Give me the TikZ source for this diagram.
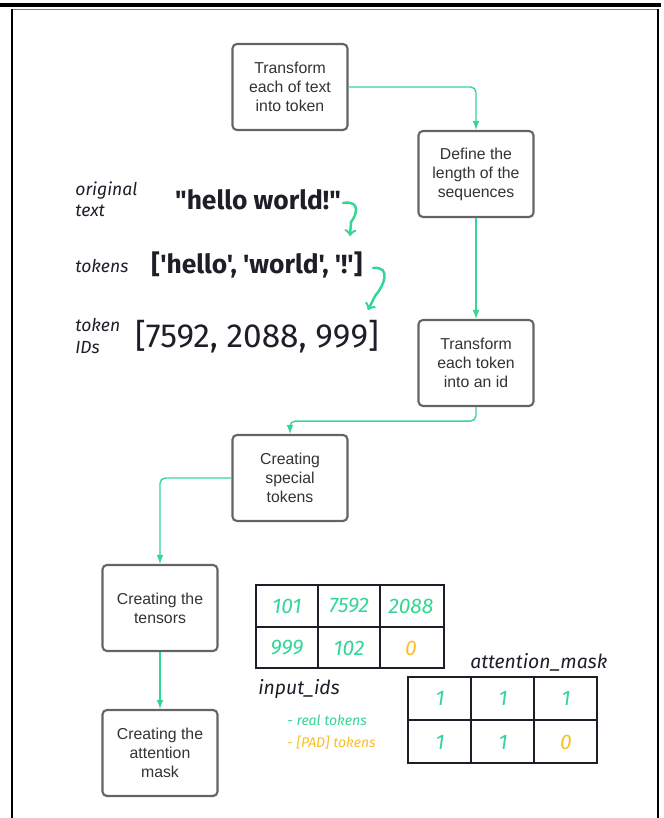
\documentclass[tikz,border=0pt]{standalone}
\usepackage{fontspec}
\setmainfont{Liberation Sans}
\newfontfamily\handfont{Fira Sans}
\usetikzlibrary{arrows,positioning}
\definecolor{mint}{RGB}{52,214,150}
\definecolor{padyellow}{RGB}{250,190,40}
\definecolor{boxgray}{RGB}{100,100,100}
\definecolor{inkgray}{RGB}{50,50,55}
\definecolor{inkblack}{RGB}{30,30,40}

\begin{document}
\begin{tikzpicture}[x=0.02cm,y=-0.02cm,
  stepbox/.style={draw=boxgray,very thick,rounded corners=2.5pt,minimum width=2.3cm,minimum height=1.72cm,
    align=center,text=inkgray,font=\fontsize{9}{10.8}\selectfont},
  flow/.style={draw=mint,thick,-latex,rounded corners=3pt},
  curly/.style={draw=mint,line width=1.4pt,line cap=round,->},
  label/.style={anchor=west,align=left,inner sep=0pt,text=inkblack,font=\handfont\itshape\fontsize{10}{12}\selectfont},
  big/.style={text=inkblack,font=\handfont\bfseries\fontsize{15}{18}\selectfont},
  cell/.style={font=\handfont\itshape\fontsize{12}{14}\selectfont},
  grid/.style={draw=inkblack,thick}]

\useasboundingbox (0,0) rectangle (663,818);

% frame
\draw[line width=2pt] (0,5)--(661,5);
\draw[gray,thin] (12,9)--(658,9);
\draw[line width=1.5pt] (12,9)--(12,818);
\draw[line width=1.5pt] (658,9)--(658,818);

% flow chart
\node[stepbox] (tok) at (290,87) {Transform\\each of text\\into token};
\node[stepbox] (len) at (476,174) {Define the\\length of the\\sequences};
\node[stepbox] (ids) at (476,363) {Transform\\each token\\into an id};
\node[stepbox] (spec) at (290,478) {Creating\\special\\tokens};
\node[stepbox] (tens) at (160,608) {Creating the\\tensors};
\node[stepbox] (mask) at (160,753) {Creating the\\attention\\mask};

\draw[flow] (tok.east) -| (len.north);
\draw[flow] (len) -- (ids);
\draw[flow] (ids.south) -- ++(0,14) -| (spec.north);
\draw[flow] (spec.west) -| (tens.north);
\draw[flow] (tens) -- (mask);

% example
\node[label] (lorig) at (75,199) {original\\text};
\node[label] (ltok) at (75,266) {tokens};
\node[label] (lids) at (75,336) {token\\IDs};
\node[big] (orig) at (258,200) {"hello world!"};
\node[big] (toks) at (257,265) {['hello', 'world', '!']};
\node[text=inkblack,font=\handfont\fontsize{19}{21}\selectfont] (nums) at (257,337) {[7592, 2088, 999]};

\coordinate (c1) at (343,203);
\coordinate (c2) at (350,236);
\coordinate (c3) at (373,268);
\coordinate (c4) at (368,310);
\draw[curly] (c1) .. controls (362,200) and (356,216) .. (351,222) -- (c2);
\draw[curly] (c3) .. controls (392,266) and (384,286) .. (375,296) -- (c4);

% input_ids table
\draw[grid] (256,585) rectangle (444,668);
\draw[grid] (256,627)--(444,627) (318,585)--(318,668) (380,585)--(380,668);
\foreach \v [count=\i] in {101,7592,2088}
  \node[cell,text=mint] (in1\i) at ({225+62*\i},606) {\v};
\foreach \v [count=\i] in {999,102}
  \node[cell,text=mint] (in2\i) at ({225+62*\i},648) {\v};
\node[cell,text=padyellow] (in23) at (411,648) {0};
\node[label,font=\handfont\itshape\fontsize{11}{13}\selectfont] (inlab) at (258,689) {input\_ids};

% legend
\node[anchor=west,inner sep=0pt,text=mint,font=\handfont\itshape\fontsize{8}{9}\selectfont] (real) at (287,720) {- real tokens};
\node[anchor=west,inner sep=0pt,text=padyellow,font=\handfont\itshape\fontsize{8}{9}\selectfont] (pad) at (287,743) {- [PAD] tokens};

% attention_mask table
\node[label,font=\handfont\itshape\fontsize{11}{13}\selectfont] (amlab) at (470,662) {attention\_mask};
\draw[grid] (408,677) rectangle (597,763);
\draw[grid] (408,720)--(597,720) (471,677)--(471,763) (534,677)--(534,763);
\foreach \i in {1,2,3}
  \node[cell,text=mint] (am1\i) at ({377+63*\i},698) {1};
\foreach \i in {1,2}
  \node[cell,text=mint] (am2\i) at ({377+63*\i},742) {1};
\node[cell,text=padyellow] (am23) at (566,742) {0};

\end{tikzpicture}
\end{document}
